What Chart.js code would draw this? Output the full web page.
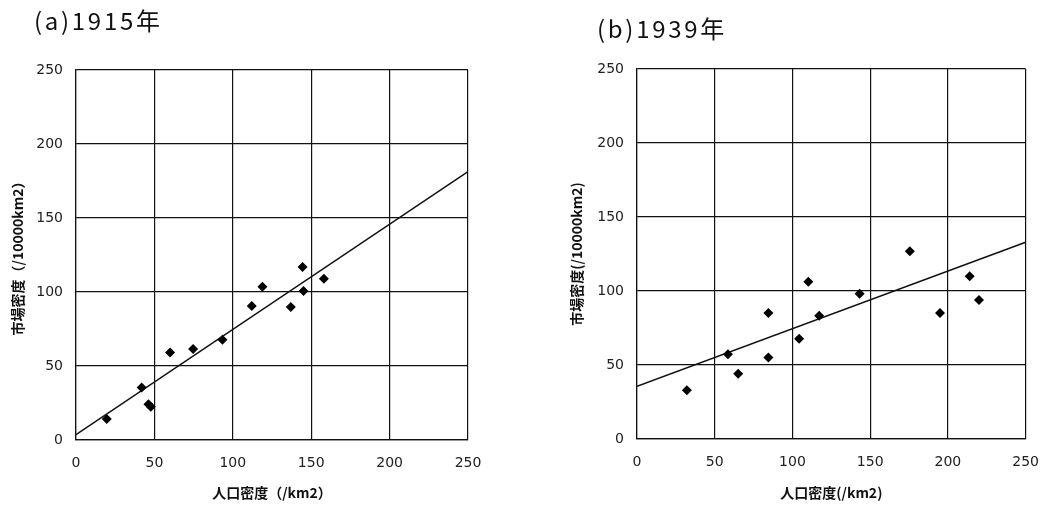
<!DOCTYPE html>
<html><head><meta charset="utf-8">
<script src="https://cdn.jsdelivr.net/npm/chart.js@4.4.1/dist/chart.umd.min.js"></script>
<style>
html,body{margin:0;padding:0;background:#fff;width:1054px;height:508px;overflow:hidden;}
.box{position:absolute;top:0;width:527px;height:508px;}
.ttl{position:absolute;font-family:"Noto Sans CJK JP","Noto Sans",sans-serif;font-size:24px;color:#111;letter-spacing:2.7px;white-space:nowrap;}
</style></head><body>
<div class="box" style="left:0"><canvas id="c1" width="527" height="508"></canvas></div>
<div class="box" style="left:527px"><canvas id="c2" width="527" height="508"></canvas></div>
<div class="ttl" style="left:34px;top:2px">(a)1915年</div>
<div class="ttl" style="left:597px;top:10px">(b)1939年</div>
<script>
// 1915
const pop1915 = [19.6, 41.9, 46.2, 47.7, 60, 74.7, 93.4, 112.1, 118.9, 137, 144.5, 145.1, 158.1];
const mkt1915 = [14.2, 35.4, 24.1, 22.5, 59.2, 61.5, 67.8, 90.5, 103.6, 89.9, 116.9, 100.7, 109];
const fitX1915 = [0, 250];
const fitY1915 = [3.6, 181.3];
// 1939
const pop1939 = [32.1, 58.5, 65.1, 84.5, 84.5, 104.3, 110.2, 117.2, 143.2, 175.5, 194.9, 214, 220];
const mkt1939 = [32.9, 57.2, 44.1, 85.1, 55, 67.8, 106.3, 83.3, 98.2, 126.8, 85.1, 109.9, 93.9];
const fitX1939 = [0, 250];
const fitY1939 = [35.6, 132.9];
// axes
const tickValues = [0, 50, 100, 150, 200, 250];
const yTitle1915 = '市場密度（/10000km2）';
const xTitle1915 = '人口密度（/km2）';
const yTitle1939 = '市場密度(/10000km2)';
const xTitle1939 = '人口密度(/km2)';

const tickFont = {family: '"DejaVu Sans", sans-serif', size: 14};
const titleFont = {family: '"Noto Sans CJK JP", sans-serif', size: 14, weight: 'bold'};

function makeChart(id, xs, ys, fx, fy, xt, yt, geom) {
  const pts = xs.map((x, i) => ({x: x, y: ys[i]}));
  const line = fx.map((x, i) => ({x: x, y: fy[i]}));
  return new Chart(document.getElementById(id), {
    type: 'scatter',
    data: {datasets: [
      {data: pts, pointStyle: 'rectRot', pointRadius: 5, pointBackgroundColor: '#000', pointBorderColor: '#000', pointBorderWidth: 0, showLine: false},
      {type: 'line', data: line, borderColor: '#111', borderWidth: 1.5, pointRadius: 0, fill: false, tension: 0}
    ]},
    options: {
      responsive: false, animation: false, devicePixelRatio: 1,
      layout: {padding: {left: 0, right: geom.right, top: geom.top, bottom: 0}},
      plugins: {legend: {display: false}, tooltip: {enabled: false}},
      scales: {
        x: {type: 'linear', min: 0, max: 250,
            afterBuildTicks: s => { s.ticks = tickValues.map(v => ({value: v})); },
            afterFit: s => { s.height = geom.xh; },
            grid: {color: '#111', lineWidth: 1.2, drawTicks: false},
            border: {color: '#111', width: 1.2},
            ticks: {font: tickFont, color: '#222', padding: 15, maxRotation: 0},
            title: {display: true, text: xt, font: titleFont, color: '#111', padding: {top: 4, bottom: 7}}
        },
        y: {type: 'linear', min: 0, max: 250,
            afterBuildTicks: s => { s.ticks = tickValues.map(v => ({value: v})); },
            afterFit: s => { s.width = geom.yw; },
            grid: {color: '#111', lineWidth: 1.2, drawTicks: false},
            border: {color: '#111', width: 1.2},
            ticks: {font: tickFont, color: '#222', padding: geom.ypad},
            title: {display: true, text: yt, font: titleFont, color: '#111', padding: {top: geom.ytp, bottom: 4}}
        }
      }
    }
  });
}
makeChart('c1', pop1915, mkt1915, fitX1915, fitY1915, xTitle1915, yTitle1915, {right: 59, top: 70, xh: 68, yw: 76, ypad: 13, ytp: 9});
makeChart('c2', pop1939, mkt1939, fitX1939, fitY1939, xTitle1939, yTitle1939, {right: 25, top: 69, xh: 69, yw: 110, ypad: 13, ytp: 41});
</script>
</body></html>
